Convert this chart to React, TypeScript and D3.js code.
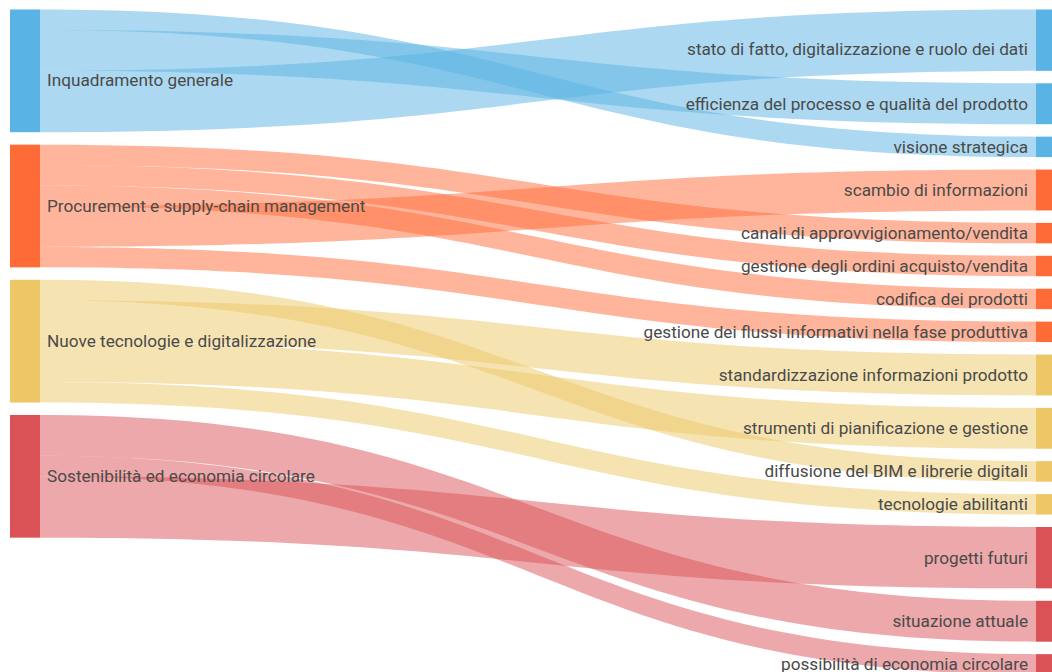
import React from "react";
import * as d3 from "d3";

const sources = [
  "Inquadramento generale",
  "Procurement e supply-chain management",
  "Nuove tecnologie e digitalizzazione",
  "Sostenibilità ed economia circolare",
];

const sourceColors = ["#59b3e4", "#ff6b37", "#edc766", "#da5156"];

const targets = [
  "stato di fatto, digitalizzazione e ruolo dei dati",
  "efficienza del processo e qualità del prodotto",
  "visione strategica",
  "scambio di informazioni",
  "canali di approvvigionamento/vendita",
  "gestione degli ordini acquisto/vendita",
  "codifica dei prodotti",
  "gestione dei flussi informativi nella fase produttiva",
  "standardizzazione informazioni prodotto",
  "strumenti di pianificazione e gestione",
  "diffusione del BIM e librerie digitali",
  "tecnologie abilitanti",
  "progetti futuri",
  "situazione attuale",
  "possibilità di economia circolare",
];

// links, listed in the order they leave their source node
const linkSources = [0, 0, 0, 1, 1, 1, 1, 1, 2, 2, 2, 2, 3, 3, 3];
const linkTargets = [
  "visione strategica",
  "efficienza del processo e qualità del prodotto",
  "stato di fatto, digitalizzazione e ruolo dei dati",
  "canali di approvvigionamento/vendita",
  "gestione degli ordini acquisto/vendita",
  "codifica dei prodotti",
  "scambio di informazioni",
  "gestione dei flussi informativi nella fase produttiva",
  "diffusione del BIM e librerie digitali",
  "standardizzazione informazioni prodotto",
  "strumenti di pianificazione e gestione",
  "tecnologie abilitanti",
  "situazione attuale",
  "possibilità di economia circolare",
  "progetti futuri",
];
const linkValues = [1, 2, 3, 1, 1, 1, 2, 1, 1, 2, 2, 1, 2, 1, 3];

const W = 1052;
const H = 672;
const TOP = 9.5;
const GAP = 12.45;
const UNIT = 20.45;
const LEFT_X0 = 10;
const RIGHT_X0 = 1036;
const NODE_W = 30;
const FIRST_LABEL_SHIFT = 9;

export default function App() {
  const vScale = d3.scaleLinear().domain([0, 1]).range([0, UNIT]);

  const sourceTotals = sources.map((_, i) =>
    d3.sum(linkValues.filter((_, k) => linkSources[k] === i))
  );
  const targetTotals = targets.map((t) =>
    d3.sum(linkValues.filter((_, k) => linkTargets[k] === t))
  );
  const targetSrc = targets.map((t) => linkSources[linkTargets.indexOf(t)]);

  const cumS = d3.cumsum([0, ...sourceTotals]);
  const cumT = d3.cumsum([0, ...targetTotals]);

  const srcNodes = sources.map((name, i) => {
    const y0 = TOP + vScale(cumS[i]) + i * GAP;
    return { name, y0, y1: y0 + vScale(sourceTotals[i]), color: sourceColors[i] };
  });
  const tgtNodes = targets.map((name, i) => {
    const y0 = TOP + vScale(cumT[i]) + i * GAP;
    return {
      name,
      y0,
      y1: y0 + vScale(targetTotals[i]),
      color: sourceColors[targetSrc[i]],
    };
  });

  const srcOffset = srcNodes.map((n) => n.y0);
  const tgtOffset = tgtNodes.map((n) => n.y0);

  const x0 = LEFT_X0 + NODE_W;
  const x1 = RIGHT_X0;
  const xm = (x0 + x1) / 2;

  const links = linkValues.map((v, k) => {
    const s = linkSources[k];
    const t = targets.indexOf(linkTargets[k]);
    const h = vScale(v);
    const sy0 = srcOffset[s];
    srcOffset[s] += h;
    const ty0 = tgtOffset[t];
    tgtOffset[t] += h;
    const p = d3.path();
    p.moveTo(x0, sy0);
    p.bezierCurveTo(xm, sy0, xm, ty0, x1, ty0);
    p.lineTo(x1, ty0 + h);
    p.bezierCurveTo(xm, ty0 + h, xm, sy0 + h, x0, sy0 + h);
    p.closePath();
    return { d: p.toString(), color: sourceColors[s] };
  });

  const fontStyle = {
    fontFamily: "Roboto, 'Noto Sans', sans-serif",
    fontSize: 17.2,
  };

  return (
    <svg
      width={W}
      height={H}
      style={{ position: "absolute", left: 0, top: 0, background: "#fff" }}
    >
      <g>
        {links.map((l, i) => (
          <path key={i} d={l.d} fill={l.color} fillOpacity={0.5} />
        ))}
      </g>
      <g>
        {srcNodes.map((n, i) => (
          <rect
            key={i}
            x={LEFT_X0}
            y={n.y0}
            width={NODE_W}
            height={n.y1 - n.y0}
            fill={n.color}
          />
        ))}
        {tgtNodes.map((n, i) => (
          <rect
            key={i}
            x={RIGHT_X0}
            y={n.y0}
            width={NODE_W}
            height={n.y1 - n.y0}
            fill={n.color}
          />
        ))}
      </g>
      <g style={fontStyle} fill="#4a4a4a">
        {srcNodes.map((n, i) => (
          <text
            key={i}
            x={LEFT_X0 + NODE_W + 7}
            y={(n.y0 + n.y1) / 2 + (i === 0 ? FIRST_LABEL_SHIFT : 0)}
            dy="0.35em"
          >
            {n.name}
          </text>
        ))}
        {tgtNodes.map((n, i) => (
          <text
            key={i}
            x={RIGHT_X0 - 8}
            y={(n.y0 + n.y1) / 2 + (i === 0 ? FIRST_LABEL_SHIFT : 0)}
            dy="0.35em"
            textAnchor="end"
          >
            {n.name}
          </text>
        ))}
      </g>
    </svg>
  );
}
